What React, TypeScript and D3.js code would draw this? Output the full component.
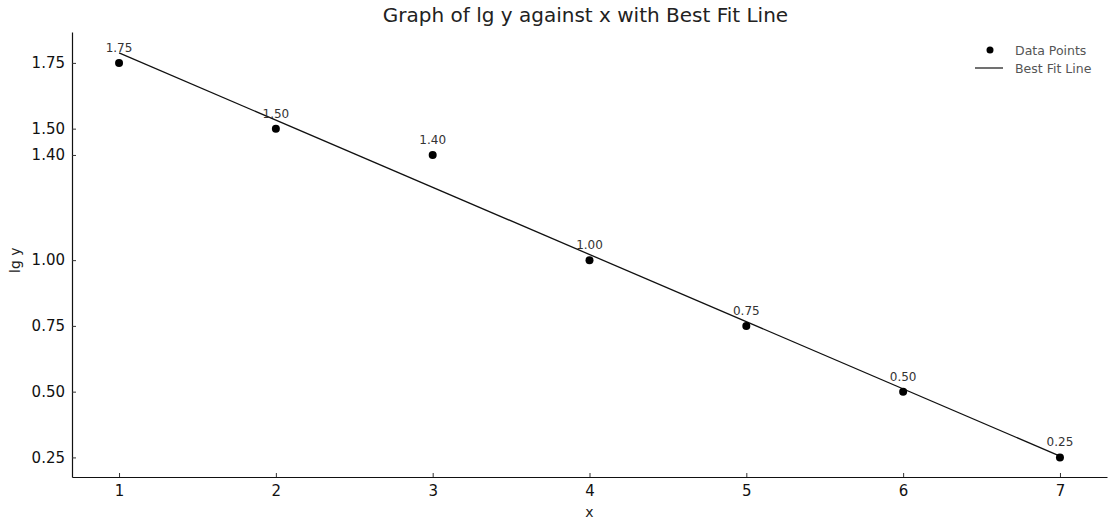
import { useRef, useEffect } from 'react';
import * as d3 from 'd3';

// data
const xValues = [1, 2, 3, 4, 5, 6, 7];
const lgY = [1.75, 1.5, 1.4, 1.0, 0.75, 0.5, 0.25];
const yTickValues = [0.25, 0.5, 0.75, 1.0, 1.4, 1.5, 1.75];
const xTickValues = [1, 2, 3, 4, 5, 6, 7];
// best fit line end points
const fitX = [1, 7];
const fitY = [1.788, 0.255];

const W = 1109, H = 524;
const FONT = '"DejaVu Sans", sans-serif';

export default function App() {
  const svgRef = useRef<SVGSVGElement>(null);

  useEffect(() => {
    const svg = d3.select(svgRef.current);
    svg.selectAll('*').remove();

    const margin = { top: 32, right: 2, bottom: 47, left: 72 };
    const width = W - margin.left - margin.right;
    const height = H - margin.top - margin.bottom;

    const g = svg.append('g').attr('transform', `translate(${margin.left},${margin.top})`);

    const x = d3.scaleLinear().domain([0.7, 7.3]).range([0, width]);
    const y = d3.scaleLinear().domain([0.1755, 1.8675]).range([height, 0]);

    // Title
    svg.append('text')
      .attr('x', margin.left + width / 2 - 4).attr('y', 22)
      .attr('text-anchor', 'middle')
      .style('font-family', FONT).style('font-size', '20px').style('fill', '#222')
      .text('Graph of lg y against x with Best Fit Line');

    // Axes — only left and bottom spines, ticks pointing inward
    const xAxis = g.append('g')
      .attr('transform', `translate(0,${height})`)
      .call(d3.axisBottom(x).tickValues(xTickValues).tickFormat(d3.format('d')).tickSizeInner(-4).tickSizeOuter(0).tickPadding(8));
    const yAxis = g.append('g')
      .call(d3.axisLeft(y).tickValues(yTickValues).tickFormat(d3.format('.2f')).tickSizeInner(-4).tickSizeOuter(0).tickPadding(7));

    [xAxis, yAxis].forEach(a => {
      a.select('.domain').attr('stroke', '#111').attr('stroke-width', 1.2);
      a.selectAll('.tick line').attr('stroke', '#333');
      a.selectAll('text').style('font-family', FONT).style('font-size', '15px').style('fill', '#111');
    });

    // Axis labels
    svg.append('text')
      .attr('x', margin.left + width / 2).attr('y', 517)
      .attr('text-anchor', 'middle')
      .style('font-family', FONT).style('font-size', '14px').style('fill', '#222')
      .text('x');
    svg.append('text')
      .attr('transform', `translate(20,${margin.top + y(1.0)}) rotate(-90)`)
      .attr('text-anchor', 'middle')
      .style('font-family', FONT).style('font-size', '14px').style('fill', '#222')
      .text('lg y');

    // Best fit line
    const line = d3.line<number>()
      .x((d, i) => x(fitX[i]))
      .y(d => y(d));
    g.append('path')
      .datum(fitY)
      .attr('d', line)
      .attr('fill', 'none')
      .attr('stroke', '#111')
      .attr('stroke-width', 1.3);

    // Points
    const pts = xValues.map((v, i) => ({ x: v, y: lgY[i] }));
    g.selectAll('circle.pt')
      .data(pts)
      .enter()
      .append('circle')
      .attr('class', 'pt')
      .attr('cx', d => x(d.x))
      .attr('cy', d => y(d.y))
      .attr('r', 4)
      .attr('fill', '#000');

    g.selectAll('text.lbl')
      .data(pts)
      .enter()
      .append('text')
      .attr('class', 'lbl')
      .attr('x', d => x(d.x))
      .attr('y', d => y(d.y) - 11)
      .attr('text-anchor', 'middle')
      .style('font-family', FONT).style('font-size', '12px').style('fill', '#333')
      .text(d => d.y.toFixed(2));

    // Legend
    const legend = svg.append('g').attr('transform', 'translate(975,50)');
    legend.append('circle').attr('cx', 15).attr('cy', 0).attr('r', 3.5).attr('fill', '#000');
    legend.append('text').attr('x', 40).attr('y', 4.5)
      .style('font-family', FONT).style('font-size', '12.5px').style('fill', '#555')
      .text('Data Points');
    legend.append('line').attr('x1', 0).attr('x2', 28).attr('y1', 18).attr('y2', 18)
      .attr('stroke', '#111').attr('stroke-width', 1.2);
    legend.append('text').attr('x', 40).attr('y', 22.5)
      .style('font-family', FONT).style('font-size', '12.5px').style('fill', '#555')
      .text('Best Fit Line');
  }, []);

  return (
    <svg ref={svgRef} width={W} height={H}
      style={{ position: 'absolute', left: 0, top: 0, background: '#fff' }} />
  );
}
